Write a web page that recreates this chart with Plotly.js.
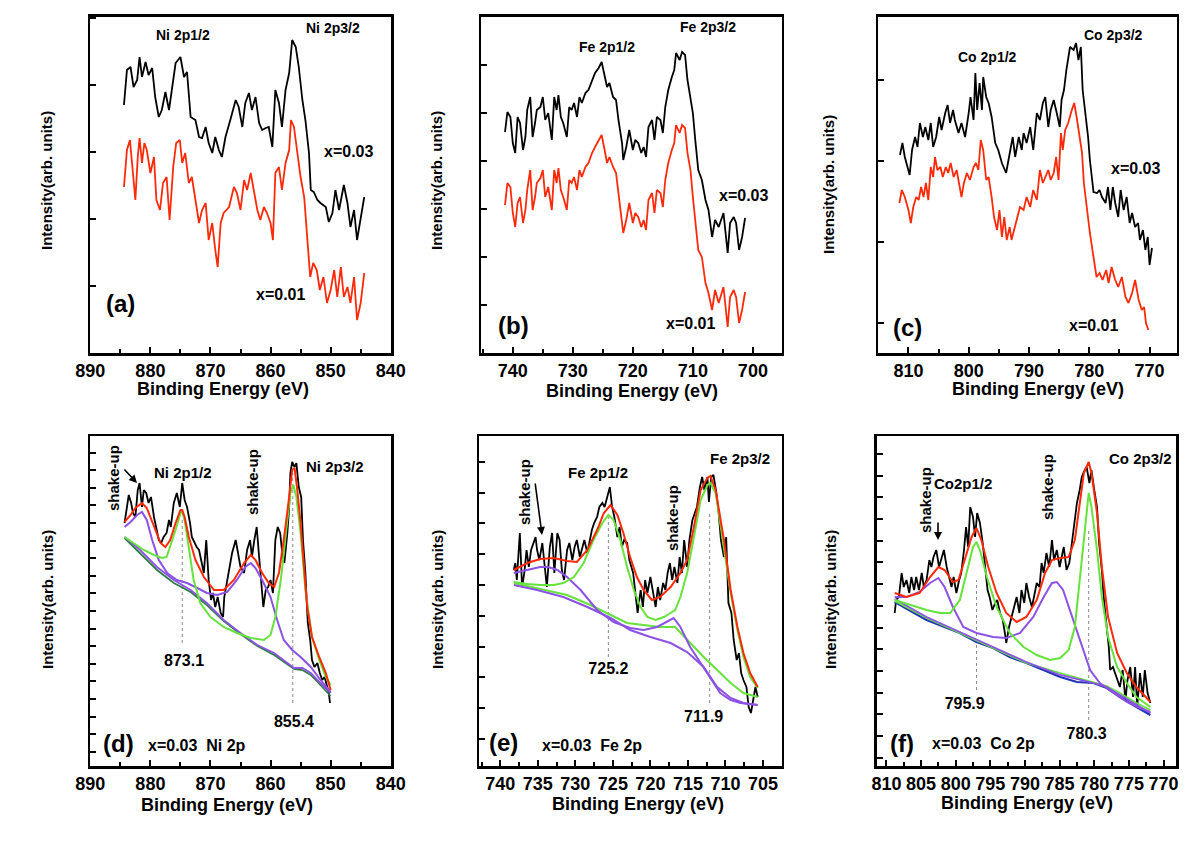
<!DOCTYPE html>
<html><head><meta charset="utf-8">
<script src="https://cdn.plot.ly/plotly-3.0.1.min.js"></script>
<style>html,body{margin:0;padding:0;background:#fff}#chart{width:1200px;height:842px}</style>
</head><body><div id="chart"></div>
<script>
// ---------------- DATA (binding energy in eV, intensity in arbitrary units) ----------------
// (a) Ni 2p survey
const aE03 = [884.4,883.9,883.3,882.8,882.2,881.8,881.4,880.8,880.3,879.7,879.2,878.6,878.1,877.5,876.9,876.4,875.8,875.0,874.4,873.9,873.3,872.5,871.9,871.4,870.8,870.3,869.7,869.2,868.6,868.1,867.5,866.7,865.8,865.3,864.7,864.2,863.6,863.1,862.5,861.9,861.4,860.8,860.3,859.7,859.2,858.6,858.1,857.5,856.9,856.7,856.4,855.8,855.3,854.7,854.2,853.6,853.3,852.8,852.2,851.7,850.8,850.3,849.7,849.2,848.6,847.8,847.2,846.7,846.1,845.6,845.0,844.4];
const aI03 = [248,283,286,266,273,296,276,291,278,285,256,236,243,261,243,266,290,296,276,281,236,233,216,215,226,210,200,216,203,196,216,233,253,246,226,250,260,243,256,230,223,225,226,206,263,250,226,263,280,293,313,306,286,253,233,200,163,161,153,150,146,131,140,163,143,168,150,126,143,113,136,156];
const aE01 = [884.4,883.9,883.4,883.1,882.5,882.1,881.8,881.4,881.0,880.6,880.0,879.4,879.0,878.4,877.9,877.3,876.8,876.2,875.7,875.1,874.7,874.2,873.6,873.1,872.5,871.9,871.4,870.8,870.3,869.7,869.2,868.8,868.3,867.8,866.9,866.1,865.6,865.0,864.4,863.9,863.3,862.8,862.2,861.7,861.1,860.6,860.0,859.6,859.2,858.6,858.1,857.5,856.9,856.6,856.1,855.6,855.0,854.4,853.9,853.4,852.9,852.3,851.8,851.2,850.6,850.0,849.4,848.9,848.3,847.8,847.2,846.7,846.1,845.6,845.0,844.4];
const aI01 = [166,203,213,193,153,196,215,190,210,203,180,196,153,143,170,176,133,186,210,213,190,200,170,176,153,130,143,150,113,130,103,86,130,140,146,166,160,143,173,163,180,163,143,133,146,140,130,113,180,186,163,190,203,233,226,203,176,156,116,76,90,83,63,76,50,63,83,56,86,56,66,50,76,33,50,80];

// (b) Fe 2p survey (both samples share the energy grid)
const bE = [741.3,740.9,740.4,740.0,739.6,739.2,738.8,738.3,737.9,737.6,737.1,736.7,736.3,736.0,735.4,735.0,734.6,734.1,733.5,733.1,732.7,732.4,732.0,731.6,731.0,730.6,730.2,729.8,729.3,728.9,728.5,727.9,727.4,726.8,726.3,725.7,725.2,724.8,724.3,723.9,723.3,722.8,722.4,721.8,721.6,721.1,720.6,720.0,719.6,719.1,718.6,718.2,717.8,717.4,716.8,716.4,716.0,715.4,715.0,714.6,714.1,713.5,713.1,712.8,712.2,711.8,711.3,710.9,710.4,710.0,709.6,709.1,708.5,707.9,707.4,706.8,706.3,705.7,704.9,704.2,703.8,703.2,702.8,702.3,701.8,701.3];
const bI03 = [221,241,236,210,200,236,230,203,216,243,256,216,230,243,246,256,233,240,213,256,243,258,236,230,216,246,243,250,236,256,250,260,263,273,280,285,291,280,266,270,256,253,233,210,193,206,223,203,213,210,200,206,196,226,233,213,236,233,220,246,263,276,283,300,293,301,298,273,256,240,213,183,173,153,143,116,133,126,140,100,130,136,130,103,116,135];
const bI01 = [148,170,166,140,126,150,156,130,143,163,183,143,156,170,175,183,156,166,143,183,170,185,163,156,143,173,170,176,163,183,176,186,190,200,206,213,218,206,190,196,186,180,160,136,120,133,150,130,140,136,126,133,123,153,160,140,163,160,146,173,190,203,210,228,220,228,225,200,183,156,130,103,96,70,60,43,63,50,66,26,56,63,56,30,43,61];

// (c) Co 2p survey
const cE03 = [811.4,811.0,810.6,809.8,809.4,808.9,808.5,808.1,807.6,807.2,806.7,806.3,805.9,805.4,804.9,804.5,803.9,803.5,803.1,802.6,802.3,801.7,801.2,800.6,800.0,799.7,799.2,798.9,798.6,798.2,797.8,797.6,797.1,796.7,796.2,795.6,795.1,794.5,793.8,793.2,792.7,792.3,791.7,791.2,790.9,790.4,789.8,789.3,788.7,788.2,787.7,787.3,786.8,786.4,785.9,785.4,784.9,784.6,784.2,783.8,783.5,783.2,782.6,782.2,781.8,781.4,781.1,780.7,780.2,779.9,779.3,778.7,778.3,777.9,777.3,776.9,776.5,776.1,775.7,775.2,774.8,774.3,773.8,773.3,772.9,772.4,771.9,771.6,771.1,770.7,770.3,770.0,769.6];
const cI03 = [198,210,196,178,203,216,206,230,216,226,213,230,206,216,236,223,240,248,230,243,233,220,230,216,240,256,233,280,243,270,243,276,256,250,236,210,203,190,180,200,216,196,216,203,220,210,226,203,240,233,250,256,226,243,253,240,226,253,263,283,296,306,303,310,293,306,263,243,216,193,161,160,163,156,150,166,143,166,150,136,163,143,156,130,140,126,130,113,123,103,116,88,105];
const cE01 = [811.5,811.1,810.6,810.0,809.6,809.2,808.7,808.3,807.9,807.5,807.1,806.7,806.3,805.9,805.6,805.2,804.7,804.3,803.8,803.4,803.0,802.5,802.0,801.5,801.2,800.8,800.3,799.8,799.2,798.8,798.4,798.0,797.6,797.1,796.7,796.2,795.8,795.3,794.9,794.5,794.1,793.7,793.2,792.9,792.3,791.9,791.5,790.9,790.4,789.8,789.3,788.7,788.2,787.7,787.3,786.8,786.4,785.9,785.5,785.1,784.7,784.4,784.0,783.5,782.9,782.5,782.1,781.6,781.2,780.9,780.4,779.9,779.3,778.8,778.3,777.8,777.2,776.8,776.3,775.7,775.2,774.6,774.0,773.5,772.9,772.4,771.8,771.3,770.9,770.6,770.2];
const cI01 = [150,163,156,143,130,146,156,153,166,156,170,153,186,176,196,183,186,176,186,180,190,176,183,163,156,170,180,173,186,190,183,213,203,173,176,156,136,123,143,116,136,113,126,113,126,136,146,143,156,146,163,153,183,170,176,183,173,180,196,173,220,203,223,230,243,250,236,216,200,170,143,120,96,76,80,73,83,70,86,73,66,76,56,50,60,73,53,43,46,30,23];

// (d) Ni 2p fit, x=0.03
const dE = [884.3,883.9,883.6,883.2,882.9,882.5,882.1,881.8,881.4,881.1,880.7,880.3,879.9,879.4,879.0,878.6,878.2,877.8,877.3,876.9,876.6,876.1,875.6,875.1,874.7,874.3,873.9,873.4,873.1,872.7,872.3,871.9,871.6,871.1,870.7,870.3,869.9,869.6,869.2,868.8,868.3,867.9,867.7,867.2,866.8,866.4,865.8,865.4,865.0,864.4,863.9,863.4,863.1,862.7,862.3,861.9,861.6,861.2,860.8,860.4,860.0,859.6,859.2,858.8,858.4,858.1,857.7,857.2,856.9,856.7,856.4,856.0,855.7,855.3,854.9,854.6,854.2,853.8,853.4,853.1,852.7,852.2,851.8,851.4,851.0,850.6,850.3,850.1];
const dI = [243,259,271,263,253,249,276,283,259,276,273,263,269,249,239,226,223,229,233,246,239,263,273,259,283,266,259,243,229,223,219,216,206,193,226,186,166,173,159,169,153,149,169,186,199,213,226,213,199,193,216,226,209,226,239,209,186,159,176,179,186,173,226,239,233,216,203,233,259,293,304,299,303,279,269,226,193,143,126,106,99,103,93,86,89,79,73,63];
const dFitE = [884.3,883.3,882.5,881.4,880.6,879.4,878.3,877.5,876.7,875.8,875.0,874.7,874.3,873.6,872.5,871.1,869.4,867.8,866.1,864.4,863.3,862.5,861.4,860.3,859.4,858.6,857.8,856.9,856.4,856.0,855.6,855.0,854.4,853.9,853.1,851.9,850.8,850.0];
const dFitI = [244,251,258,263,258,239,223,219,226,243,256,256,249,229,206,189,176,176,186,203,211,206,193,183,179,193,226,269,296,298,279,243,199,159,129,109,93,76];
const dMainE = [884.3,882.8,881.1,879.4,878.1,877.3,876.7,875.8,875.0,874.7,874.3,873.6,872.8,871.7,870.0,867.8,865.6,863.3,861.1,860.0,859.2,858.3,857.5,856.7,856.2,855.7,855.0,854.2,853.1,851.9,850.8,850.0];
const dMainI = [229,223,216,211,208,209,219,236,253,254,246,219,186,163,149,139,133,128,126,131,149,186,233,273,281,269,233,176,129,106,89,81];
const dSatE = [884.3,883.3,882.2,881.4,880.6,879.7,878.6,877.2,875.6,873.9,872.2,870.6,868.9,867.2,865.6,864.2,863.3,862.5,861.4,860.0,858.9,857.8,856.4,855.0,853.3,851.7,850.0];
const dSatI = [239,244,251,254,246,226,206,193,186,183,178,173,171,174,186,199,203,198,186,169,146,126,116,109,99,86,74];
const dBgE = [884.3,881.7,878.9,876.1,873.3,870.6,867.8,865.0,862.2,859.4,857.2,856.1,854.7,853.3,851.7,850.0];
const dBgI = [229,216,199,186,176,163,146,133,121,113,103,98,98,93,83,73];
const dBg2I = [228,213,196,183,174,161,145,132,120,111,102,97,96,91,81,70];
const dPeakE = [874.7,856.3], dPeakTop = [246,293], dPeakBot = [123,63];
const dPeakLab = ["873.1","855.4"], dLabE = [874.4,856.1], dLabI = [104,43];

// (e) Fe 2p fit, x=0.03
const eE = [738.2,738.0,737.8,737.4,737.1,736.8,736.5,736.2,735.9,735.6,735.3,735.1,734.8,734.4,734.1,733.8,733.4,733.1,732.8,732.4,732.1,731.8,731.5,731.1,730.8,730.4,730.1,729.8,729.4,729.1,728.8,728.4,728.1,727.8,727.5,727.1,726.8,726.4,726.1,725.8,725.4,725.1,724.8,724.4,724.1,723.8,723.5,723.1,722.8,722.3,722.0,721.7,721.3,721.0,720.7,720.4,720.0,719.6,719.3,719.0,718.7,718.3,718.0,717.7,717.4,717.1,716.8,716.4,716.1,715.8,715.5,715.1,714.8,714.4,714.1,713.8,713.4,713.1,712.8,712.4,712.2,711.9,711.6,711.2,710.9,710.6,710.2,709.9,709.6,709.2,708.9,708.5,708.2,707.9,707.6,707.2,706.9,706.6,706.3,706.0,705.7];
const eI = [196,203,186,233,179,193,216,199,216,223,229,216,206,223,203,179,219,233,193,233,226,196,186,216,223,206,219,226,209,219,226,213,226,236,243,249,259,263,259,269,279,259,249,229,239,219,226,223,206,193,173,153,176,159,186,173,189,169,159,179,166,183,176,193,203,186,199,183,209,193,226,199,226,246,253,259,279,289,276,289,264,289,291,273,253,226,209,229,163,153,126,106,113,93,86,79,59,53,66,79,69];
const eFitE = [738.2,736.4,734.7,732.9,731.1,729.8,728.4,727.1,726.2,725.3,724.4,723.6,722.7,721.8,720.9,719.8,718.7,717.3,716.0,715.1,714.2,713.3,712.4,712.0,711.3,710.2,709.3,708.4,707.6,706.7,705.7];
const eFitI = [196,203,207,208,205,204,216,236,253,261,251,233,209,189,176,166,169,179,193,206,239,276,288,290,276,226,176,139,113,93,79];
const eMainE = [738.2,736.4,734.7,732.9,731.6,730.2,728.9,727.6,726.4,725.6,724.9,724.0,723.1,722.2,721.3,720.4,719.3,718.2,717.3,716.7,716.0,715.1,714.2,713.3,712.4,712.0,711.3,710.2,709.3,708.4,707.6,706.7,705.7];
const eMainI = [184,182,181,181,183,189,203,226,243,251,246,226,199,176,159,149,146,149,153,156,169,193,229,266,281,283,273,219,173,136,109,89,78];
const eSatE = [738.2,736.4,734.7,733.6,732.4,731.1,729.3,727.1,724.9,722.7,720.9,719.1,717.8,716.9,716.0,714.7,713.3,712.0,710.7,709.3,708.0,705.7];
const eSatI = [193,196,199,199,196,189,176,156,144,138,136,139,144,148,139,119,103,88,73,66,63,61];
const eBgE = [738.2,735.1,731.6,728.4,725.3,722.7,720.0,717.3,715.1,712.9,711.1,709.3,707.6,705.7];
const eBgI = [181,176,169,159,148,136,129,123,114,99,79,68,63,61];
const eBg2E = [738.2,735.1,731.1,728.0,725.3,723.1,720.9,718.7,716.7,714.7,712.9,711.1,709.3,707.6,705.7];
const eBg2I = [183,178,171,161,151,143,141,139,139,123,109,96,83,73,69];
const ePeakE = [725.6,712.1], ePeakTop = [249,253], ePeakBot = [109,63];
const ePeakLab = ["725.2","711.9"], eLabE = [725.6,712.9], eLabI = [96,48];

// (f) Co 2p fit, x=0.03
const fE = [808.8,808.6,808.2,807.8,807.5,807.1,806.7,806.4,806.0,805.7,805.3,804.9,804.6,804.2,803.8,803.5,803.2,802.8,802.4,802.0,801.7,801.3,800.9,800.6,800.3,799.9,799.5,799.2,798.8,798.5,798.2,797.9,797.5,797.2,796.9,796.5,796.1,795.8,795.4,795.1,794.7,794.3,794.0,793.6,793.2,792.9,792.7,792.3,791.9,791.6,791.2,790.8,790.5,790.1,789.8,789.4,789.0,788.7,788.3,787.9,787.6,787.3,786.9,786.5,786.1,785.8,785.4,785.0,784.7,784.4,784.0,783.6,783.3,782.9,782.5,782.1,781.8,781.5,781.1,780.7,780.4,780.0,779.6,779.3,778.9,778.6,778.2,777.9,777.7,777.3,777.0,776.7,776.3,775.9,775.5,775.2,774.8,774.4,774.1,773.8,773.4,773.0,772.7,772.3,771.9];
const fI = [153,166,169,193,179,186,173,189,176,189,176,193,179,186,206,199,209,216,199,209,216,199,186,179,189,173,186,193,216,239,219,259,249,229,253,243,223,203,176,169,156,163,166,153,146,133,123,139,149,159,169,153,176,163,183,169,159,169,183,179,203,193,213,199,226,206,216,199,209,219,196,203,219,243,263,276,289,294,299,283,296,276,259,223,196,166,139,119,96,99,93,86,79,96,66,86,99,69,99,59,93,69,96,73,63];
const fFitE = [808.8,807.1,805.2,803.7,802.5,801.6,800.4,799.6,798.7,797.7,797.0,796.3,795.3,794.1,792.7,791.2,789.8,788.3,787.1,786.1,784.9,783.7,782.8,782.0,781.5,780.8,780.4,779.6,778.9,778.0,776.7,775.3,773.9,771.9];
const fFitI = [173,169,173,189,199,196,184,186,206,229,238,226,199,173,153,144,149,166,193,206,208,209,226,266,293,304,293,253,199,149,113,93,79,64];
const fMainE = [808.8,806.6,804.2,802.3,800.8,799.4,798.4,797.5,797.0,796.5,795.5,794.1,792.2,790.2,788.3,786.4,784.9,783.7,782.8,782.0,781.3,780.8,780.4,779.6,778.9,778.0,776.7,775.3,773.9,771.9];
const fMainI = [166,161,156,153,153,166,193,219,224,216,189,159,133,119,111,106,108,116,139,193,243,273,259,216,169,129,99,83,69,59];
const fSatE = [808.8,807.1,805.2,803.7,802.5,801.6,800.4,798.9,797.0,794.6,792.7,790.7,788.8,787.3,786.1,785.4,784.5,783.5,782.5,781.6,780.6,779.2,777.2,775.3,773.4,771.9];
const fSatI = [169,169,174,183,188,179,159,139,133,129,128,133,149,169,183,184,176,156,136,116,96,83,73,64,58,54];
const fBgE = [808.8,804.2,799.4,797.0,794.6,792.2,789.8,787.3,784.9,782.5,780.1,778.2,776.3,773.9,771.9];
const fBgI = [164,146,133,124,118,109,103,96,89,84,83,78,69,59,51];
const fBg2E = [808.8,804.2,799.4,794.6,789.8,784.9,780.1,778.2,776.3,773.9,771.9];
const fBg2I = [167,149,134,119,104,91,83,79,71,61,53];
const fBg3I = [165,148,133,118,103,93,84,80,73,63,56];
const fPeakE = [797.0,780.8], fPeakTop = [186,236], fPeakBot = [76,46];
const fPeakLab = ["795.9","780.3"], fLabE = [798.7,781.1], fLabI = [61,31];

// ---------------- STYLE ----------------
const W = 1200, H = 842;
const FONT = 'Arial, "Liberation Sans", sans-serif';
const BLACK = '#000000', RED = '#ff2a0a', GREEN = '#66e23c', PURPLE = '#8c52e3', BLUE = '#2033b8', DKGREEN = '#2f7d45';
const px = v => v / W, py = v => 1 - v / H;

const traces = [];
function line(xa, ya, x, y, color, width, dash) {
  traces.push({type: 'scatter', mode: 'lines', x: x, y: y, xaxis: xa, yaxis: ya,
    line: {color: color, width: width || 1.8, dash: dash || 'solid'}, hoverinfo: 'skip', showlegend: false});
}
function dropLines(xa, ya, E, top, bot) {
  for (let i = 0; i < E.length; i++) {
    traces.push({type: 'scatter', mode: 'lines', x: [E[i], E[i]], y: [bot[i], top[i]], xaxis: xa, yaxis: ya,
      line: {color: '#8a8a8a', width: 1, dash: 'dot'}, hoverinfo: 'skip', showlegend: false});
  }
}
function labels(xa, ya, E, I, txt) {
  traces.push({type: 'scatter', mode: 'text', x: E, y: I, text: txt, xaxis: xa, yaxis: ya,
    textfont: {family: FONT, size: 16, color: BLACK, weight: 'bold'}, hoverinfo: 'skip', showlegend: false});
}

// (a)
line('x', 'y', aE03, aI03, BLACK, 1.8);
line('x', 'y', aE01, aI01, RED, 1.8);
// (b)
line('x2', 'y2', bE, bI03, BLACK, 1.8);
line('x2', 'y2', bE, bI01, RED, 1.8);
// (c)
line('x3', 'y3', cE03, cI03, BLACK, 1.8);
line('x3', 'y3', cE01, cI01, RED, 1.8);
// (d)
dropLines('x4', 'y4', dPeakE, dPeakTop, dPeakBot);
line('x4', 'y4', dE, dI, BLACK, 1.8);
line('x4', 'y4', dBgE, dBg2I, DKGREEN, 1.8);
line('x4', 'y4', dBgE, dBgI, PURPLE, 1.8);
line('x4', 'y4', dSatE, dSatI, PURPLE, 2);
line('x4', 'y4', dMainE, dMainI, GREEN, 2);
line('x4', 'y4', dFitE, dFitI, RED, 2);
labels('x4', 'y4', dLabE, dLabI, dPeakLab);
// (e)
dropLines('x5', 'y5', ePeakE, ePeakTop, ePeakBot);
line('x5', 'y5', eE, eI, BLACK, 1.8);
line('x5', 'y5', eBg2E, eBg2I, GREEN, 2);
line('x5', 'y5', eBgE, eBgI, PURPLE, 2);
line('x5', 'y5', eSatE, eSatI, PURPLE, 2);
line('x5', 'y5', eMainE, eMainI, GREEN, 2);
line('x5', 'y5', eFitE, eFitI, RED, 2);
labels('x5', 'y5', eLabE, eLabI, ePeakLab);
// (f)
dropLines('x6', 'y6', fPeakE, fPeakTop, fPeakBot);
line('x6', 'y6', fE, fI, BLACK, 1.8);
line('x6', 'y6', fBgE, fBgI, BLUE, 2.2);
line('x6', 'y6', fBg2E, fBg3I, GREEN, 1.8);
line('x6', 'y6', fBg2E, fBg2I, PURPLE, 1.8);
line('x6', 'y6', fSatE, fSatI, PURPLE, 2);
line('x6', 'y6', fMainE, fMainI, GREEN, 2);
line('x6', 'y6', fFitE, fFitI, RED, 2);
labels('x6', 'y6', fLabE, fLabI, fPeakLab);

// ---------------- LAYOUT ----------------
const panels = [
  {id: '',  L: 90,    R: 391,    T: 16.7, B: 353, xr: [890.05, 839.95], dt: 10, mn: 5,   yr: [0, 336.3], y0: 0,    ydt: 67},
  {id: '2', L: 481,   R: 781.7,  T: 16.7, B: 353, xr: [745.3, 695.2],   dt: 10, mn: 5,   yr: [0, 336.3], y0: 0,    ydt: 48},
  {id: '3', L: 878.3, R: 1176.7, T: 16.7, B: 353, xr: [815.0, 765.5],   dt: 10, mn: 5,   yr: [0, 336.3], y0: 30,   ydt: 81},
  {id: '4', L: 90,    R: 391,    T: 436,  B: 766, xr: [890.05, 839.95], dt: 10, mn: 5,   yr: [0, 330],   y0: 14.3, ydt: 17.6},
  {id: '5', L: 479.3, R: 781.7,  T: 436,  B: 766, xr: [742.8, 702.5],   dt: 5,  mn: 2.5, yr: [0, 330],   y0: 27,   ydt: 30.8},
  {id: '6', L: 876.7, R: 1176,   T: 436,  B: 766, xr: [811.4, 768.2],   dt: 5,  mn: 2.5, yr: [0, 330],   y0: 30,   ydt: 21.7}
];

const layout = {
  width: W, height: H, margin: {l: 0, r: 0, t: 0, b: 0},
  paper_bgcolor: '#ffffff', plot_bgcolor: '#ffffff', showlegend: false,
  font: {family: FONT, color: BLACK},
  annotations: []
};
panels.forEach(p => {
  layout['xaxis' + p.id] = {
    domain: [px(p.L), px(p.R)], anchor: 'y' + p.id, range: p.xr, autorange: false,
    showline: true, linecolor: BLACK, linewidth: 2.5, mirror: true,
    ticks: 'inside', ticklen: 6, tickwidth: 2, tickcolor: BLACK, tick0: 0, dtick: p.dt,
    minor: {dtick: p.mn, ticks: 'inside', ticklen: 4, tickwidth: 2, tickcolor: BLACK, showgrid: false},
    showgrid: false, zeroline: false,
    tickfont: {family: FONT, size: 18, color: BLACK, weight: 'bold'}
  };
  layout['yaxis' + p.id] = {
    domain: [py(p.B), py(p.T)], anchor: 'x' + p.id, range: p.yr, autorange: false,
    showline: true, linecolor: BLACK, linewidth: 2.5, mirror: true,
    ticks: 'inside', ticklen: 6, tickwidth: 2, tickcolor: BLACK, tick0: p.y0, dtick: p.ydt,
    showticklabels: false, showgrid: false, zeroline: false
  };
});

function note(text, x, y, size, angle) {
  layout.annotations.push({text: text, xref: 'paper', yref: 'paper', x: px(x), y: py(y),
    xanchor: 'center', yanchor: 'middle', showarrow: false, textangle: angle || 0,
    font: {family: FONT, size: size, color: BLACK, weight: 'bold'}});
}
function arrow(x0, y0, x1, y1) {
  layout.annotations.push({text: '', xref: 'paper', yref: 'paper', x: px(x1), y: py(y1),
    ax: x0 - x1, ay: y0 - y1, axref: 'pixel', ayref: 'pixel', showarrow: true,
    arrowhead: 2, arrowsize: 1, arrowwidth: 1.6, arrowcolor: BLACK});
}

// axis titles
const yTitle = 'Intensity(arb. units)', xTitle = 'Binding Energy (eV)';
[[47,181],[437,181],[829,185],[47,600],[437,600],[830,600]].forEach(c => note(yTitle, c[0], c[1], 15, -90));
[[223,389],[632,391],[1038,389],[227,805],[638,804],[1027,803]].forEach(c => note(xTitle, c[0], c[1], 18));

// (a)
note('Ni 2p1/2', 183, 35, 14); note('Ni 2p3/2', 333, 28, 14);
note('x=0.03', 348, 152, 16); note('x=0.01', 280, 295, 16); note('(a)', 120, 303, 24);
// (b)
note('Fe 2p1/2', 607, 47, 14); note('Fe 2p3/2', 708, 27, 14);
note('x=0.03', 743, 195, 16); note('x=0.01', 690, 323, 16); note('(b)', 513, 325, 24);
// (c)
note('Co 2p1/2', 987, 57, 14); note('Co 2p3/2', 1113, 35, 14);
note('x=0.03', 1135, 168, 16); note('x=0.01', 1093, 325, 16); note('(c)', 907, 328, 24);
// (d)
note('shake-up', 113, 478, 15, -90); note('Ni 2p1/2', 183, 472, 15);
note('shake-up', 252, 482, 15, -90); note('Ni 2p3/2', 335, 467, 15);
note('(d)', 118, 743, 24); note('x=0.03  Ni 2p', 197, 745, 16);
arrow(123, 468, 137, 483);
// (e)
note('shake-up', 525, 492, 15, -90); note('Fe 2p1/2', 598, 472, 15);
note('shake-up', 672, 518, 15, -90); note('Fe 2p3/2', 740, 458, 15);
note('(e)', 503, 742, 24); note('x=0.03  Fe 2p', 592, 745, 16);
arrow(535, 482, 542, 535);
// (f)
note('shake-up', 925, 500, 15, -90); note('Co2p1/2', 963, 483, 15);
note('shake-up', 1047, 487, 15, -90); note('Co 2p3/2', 1140, 458, 15);
note('(f)', 902, 743, 24); note('x=0.03  Co 2p', 983, 743, 16);
arrow(938, 521, 938, 540);

Plotly.newPlot('chart', traces, layout, {staticPlot: true, displayModeBar: false});
</script>
</body></html>
